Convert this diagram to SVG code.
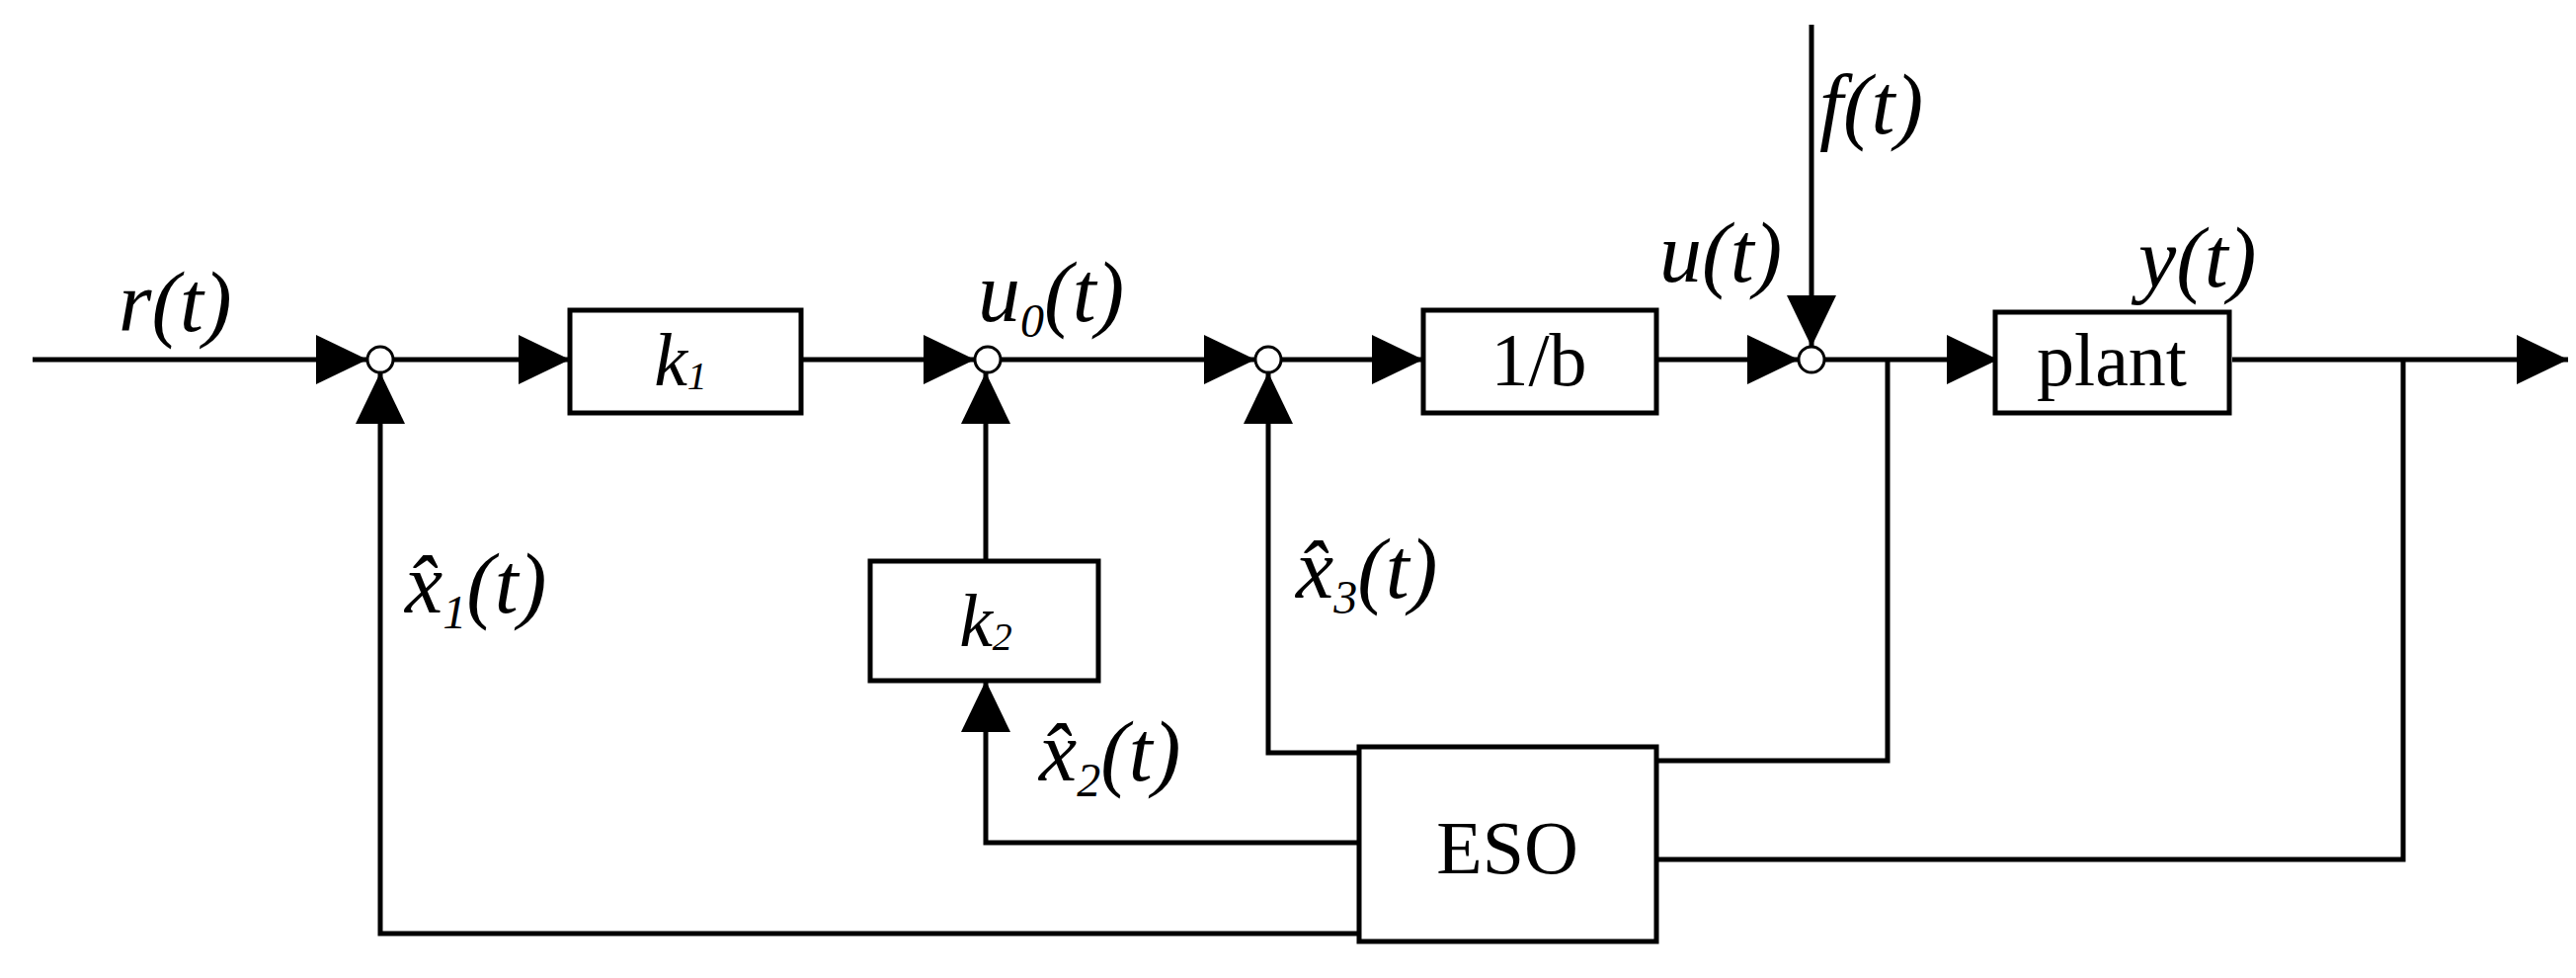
<svg xmlns="http://www.w3.org/2000/svg" width="2608" height="990" viewBox="0 0 2608 990">
<style>
.ln{stroke:#000;stroke-width:5;fill:none}
.bx{fill:#fff;stroke:#000;stroke-width:5}
.sj{fill:#fff;stroke:#000;stroke-width:3}
.m{font-family:"Liberation Serif",serif;font-style:italic;font-size:86px;fill:#000}
.t{font-family:"Liberation Serif",serif;font-size:76px;fill:#000;text-anchor:middle;dominant-baseline:central}
</style>
<defs>
<marker id="a" markerUnits="userSpaceOnUse" markerWidth="52" markerHeight="50" refX="52" refY="25" orient="auto">
<polygon points="0,0 52,25 0,50" fill="#000"/>
</marker>
</defs>
<rect width="2608" height="990" fill="#fff"/>
<g id="connectors">
<line class="ln" x1="33" y1="364" x2="372" y2="364" marker-end="url(#a)"/>
<line class="ln" x1="398" y1="364" x2="577" y2="364" marker-end="url(#a)"/>
<line class="ln" x1="811" y1="364" x2="987" y2="364" marker-end="url(#a)"/>
<line class="ln" x1="1013" y1="364" x2="1271" y2="364" marker-end="url(#a)"/>
<line class="ln" x1="1297" y1="364" x2="1441" y2="364" marker-end="url(#a)"/>
<line class="ln" x1="1677" y1="364" x2="1821" y2="364" marker-end="url(#a)"/>
<line class="ln" x1="1847" y1="364" x2="2023" y2="364" marker-end="url(#a)"/>
<line class="ln" x1="2260" y1="364" x2="2600" y2="364" marker-end="url(#a)"/>
<line class="ln" x1="1834" y1="25" x2="1834" y2="351" marker-end="url(#a)"/>
<polyline class="ln" points="1376,945 385,945 385,377" marker-end="url(#a)"/>
<polyline class="ln" points="1376,853 998,853 998,689" marker-end="url(#a)"/>
<line class="ln" x1="998" y1="568" x2="998" y2="377" marker-end="url(#a)"/>
<polyline class="ln" points="1376,762 1284,762 1284,377" marker-end="url(#a)"/>
<polyline class="ln" points="1911,364 1911,770 1677,770"/>
<polyline class="ln" points="2433,364 2433,870 1677,870"/>
</g>
<g id="sum1"><circle class="sj" cx="385" cy="364" r="13"/></g>
<g id="sum2"><circle class="sj" cx="1000" cy="364" r="13"/></g>
<g id="sum3"><circle class="sj" cx="1284" cy="364" r="13"/></g>
<g id="sum4"><circle class="sj" cx="1834" cy="364" r="13"/></g>
<g id="k1"><rect class="bx" x="577" y="314" width="234" height="104"/><text class="t" x="689" y="364" font-style="italic">k<tspan font-size="40" dy="16">1</tspan></text></g>
<g id="inv_b"><rect class="bx" x="1441" y="314" width="236" height="104"/><text class="t" x="1558" y="364">1/b</text></g>
<g id="plant"><rect class="bx" x="2020" y="316" width="237" height="102"/><text class="t" x="2138" y="364" font-size="44">plant</text></g>
<g id="k2"><rect class="bx" x="881" y="568" width="231" height="121"/><text class="t" x="998" y="628" font-style="italic">k<tspan font-size="40" dy="16">2</tspan></text></g>
<g id="eso"><rect class="bx" x="1376" y="756" width="301" height="197"/><text class="t" x="1526" y="858" font-size="100">ESO</text></g>
<g id="labels">
<text class="m" x="120" y="335">r(t)</text>
<text class="m" x="990" y="325">u<tspan font-size="48" dy="16">0</tspan><tspan dy="-16">(t)</tspan></text>
<text class="m" x="1680" y="285">u(t)</text>
<text class="m" x="1842" y="135">f(t)</text>
<text class="m" x="2165" y="290">y(t)</text>
<text class="m" x="410" y="620">x̂<tspan font-size="48" dy="16">1</tspan><tspan dy="-16">(t)</tspan></text>
<text class="m" x="1312" y="605">x̂<tspan font-size="48" dy="16">3</tspan><tspan dy="-16">(t)</tspan></text>
<text class="m" x="1052" y="790">x̂<tspan font-size="48" dy="16">2</tspan><tspan dy="-16">(t)</tspan></text>
</g>
</svg>
